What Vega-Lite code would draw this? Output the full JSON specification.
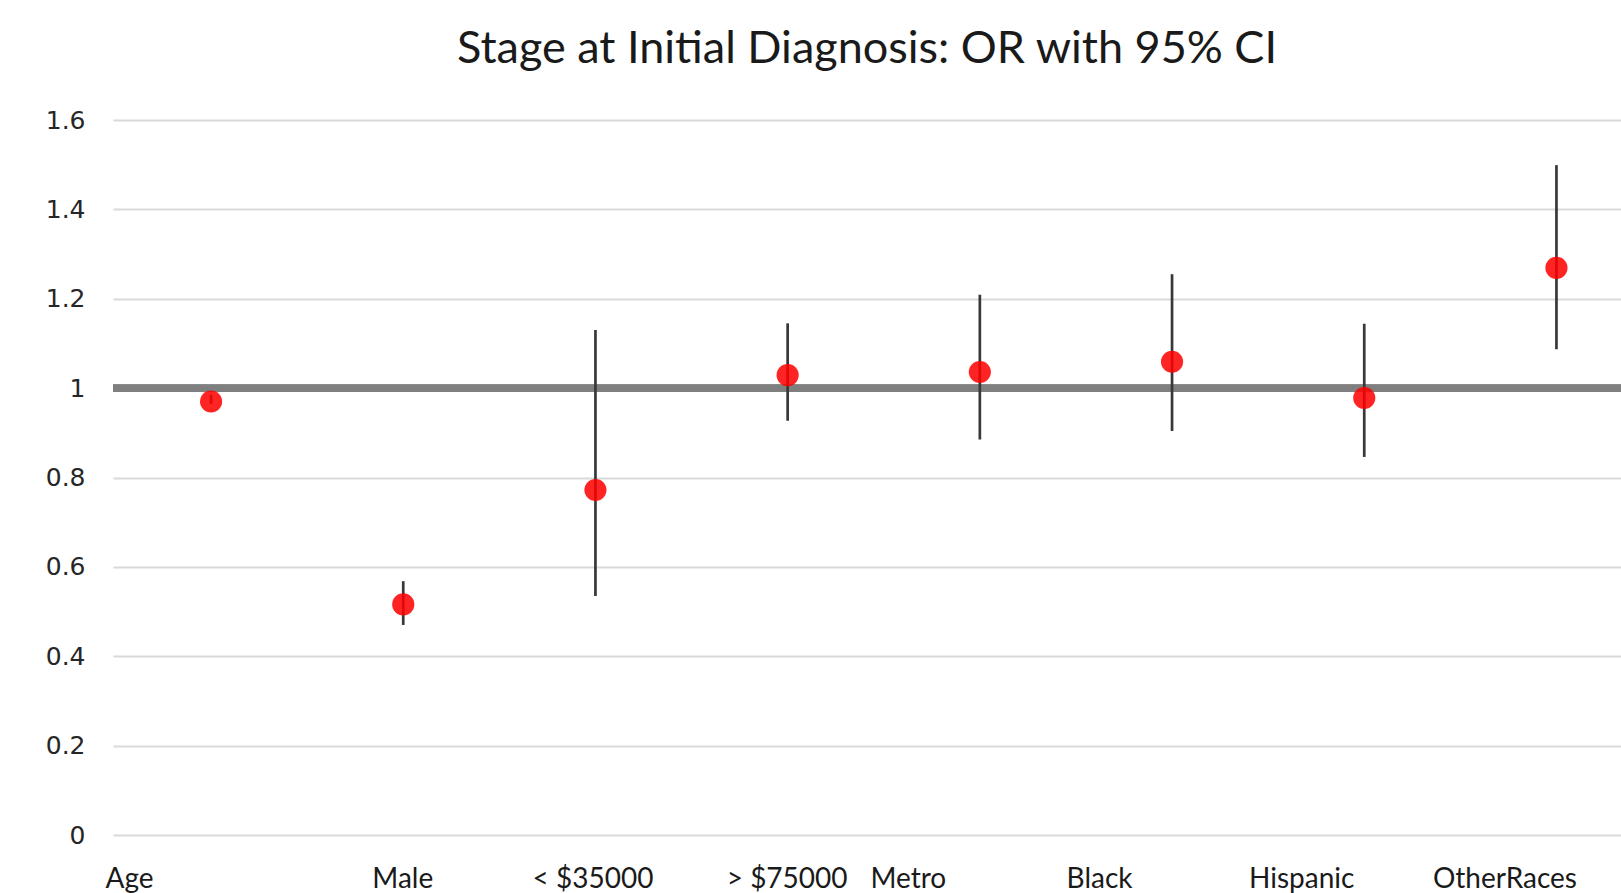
{
  "$schema": "https://vega.github.io/schema/vega-lite/v6.json",
  "width": 1508,
  "height": 715,
  "autosize": "none",
  "padding": {"left": 113, "top": 120, "right": 0, "bottom": 58},
  "background": "white",
  "title": {
    "text": "Stage at Initial Diagnosis: OR with 95% CI",
    "font": "Lato",
    "fontSize": 45,
    "fontWeight": "normal",
    "color": "#1a1a1a",
    "anchor": "middle",
    "offset": 36
  },
  "config": {"view": {"stroke": null}},
  "data": {
    "values": [
      {"factor": "Age", "or": 0.970, "lo": 0.965, "hi": 0.985},
      {"factor": "Male", "or": 0.516, "lo": 0.470, "hi": 0.568},
      {"factor": "< $35000", "or": 0.772, "lo": 0.535, "hi": 1.130},
      {"factor": "> $75000", "or": 1.029, "lo": 0.927, "hi": 1.145},
      {"factor": "Metro", "or": 1.036, "lo": 0.885, "hi": 1.209},
      {"factor": "Black", "or": 1.059, "lo": 0.904, "hi": 1.255},
      {"factor": "Hispanic", "or": 0.978, "lo": 0.846, "hi": 1.144},
      {"factor": "OtherRaces", "or": 1.269, "lo": 1.087, "hi": 1.499}
    ]
  },
  "layer": [
    {
      "mark": {"type": "rule", "color": "#7f7f7f", "strokeWidth": 7},
      "encoding": {
        "y": {
          "datum": 1,
          "type": "quantitative",
          "scale": {"domain": [0, 1.6]},
          "axis": {
            "title": null,
            "values": [0, 0.2, 0.4, 0.6, 0.8, 1, 1.2, 1.4, 1.6],
            "format": "~g",
            "labelFont": "DejaVu Sans",
            "labelFontSize": 25,
            "labelColor": "#262626",
            "labelPadding": 28,
            "ticks": false,
            "domain": false,
            "grid": true,
            "gridColor": "#d9d9d9",
            "gridWidth": 2
          }
        }
      }
    },
    {
      "mark": {"type": "rule", "color": "#383838", "strokeWidth": 2.7},
      "encoding": {
        "x": {
          "field": "factor",
          "type": "nominal",
          "sort": null,
          "scale": {"type": "point", "padding": 0.423, "align": 0.603},
          "axis": {
            "title": null,
            "labelAngle": 0,
            "labelFont": "Lato",
            "labelFontSize": 28,
            "labelColor": "#1a1a1a",
            "labelPadding": 30,
            "labelBaseline": "top",
            "labelOffset": {
              "condition": [
                {"test": "datum.value === 'Age'", "value": -82},
                {"test": "datum.value === '< $35000'", "value": -3},
                {"test": "datum.value === 'Metro'", "value": -72},
                {"test": "datum.value === 'Black'", "value": -73},
                {"test": "datum.value === 'Hispanic'", "value": -63},
                {"test": "datum.value === 'OtherRaces'", "value": -52}
              ],
              "value": -1
            },
            "ticks": false,
            "domain": false,
            "grid": false
          }
        },
        "y": {"field": "lo", "type": "quantitative"},
        "y2": {"field": "hi"}
      }
    },
    {
      "mark": {"type": "circle", "color": "#ff0000", "opacity": 0.86, "size": 490},
      "encoding": {
        "x": {"field": "factor", "type": "nominal", "sort": null},
        "y": {"field": "or", "type": "quantitative"}
      }
    }
  ]
}
